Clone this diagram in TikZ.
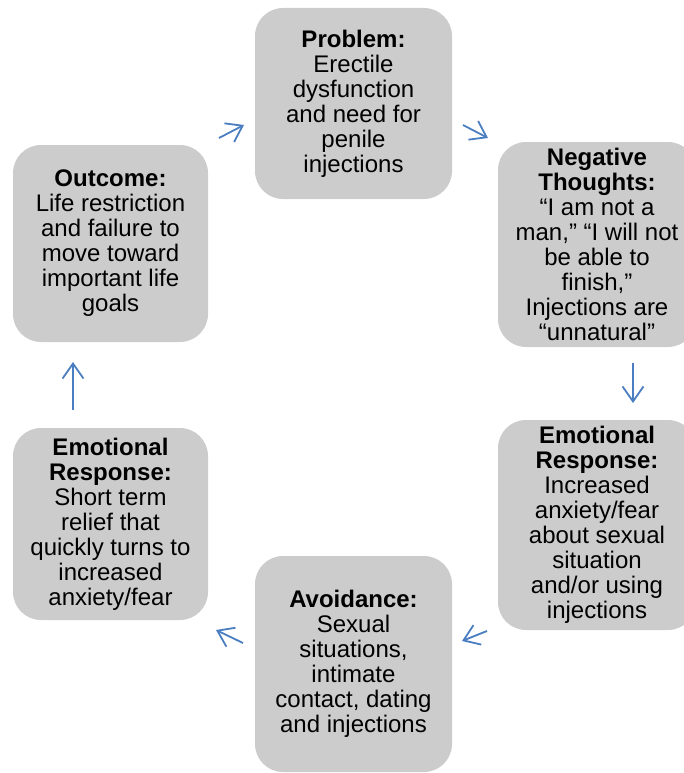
\documentclass[tikz,border=0pt]{standalone}
\usepackage{fontspec}
\setmainfont{Liberation Sans}
\usepackage{xcolor}
\usepackage{tikz}
\usetikzlibrary{arrows.meta}

\definecolor{boxgray}{RGB}{204,204,204}
\definecolor{arrowblue}{RGB}{74,126,193}

\begin{document}
\begin{tikzpicture}[x=1pt, y=-1pt,
    stage/.style={fill=boxgray, rounded corners=28pt, align=center, inner sep=0pt,
        font=\fontsize{24}{25}\selectfont},
    flow/.style={arrowblue, line width=1.8pt, -{Straight Barb[length=15pt, width=21pt, line width=1.8pt]}}]
            \clip (0,0) rectangle (684,773);

            % Problem
            \node[stage, minimum width=197pt, minimum height=191pt] (problem) at (353.5,103.5)
                {\textbf{Problem:}\\Erectile\\dysfunction\\and need for\\penile\\injections};

            % Negative thoughts
            \node[stage, minimum width=198pt, minimum height=205pt] (thoughts) at (597,244.5)
                {\textbf{Negative}\\\textbf{Thoughts:}\\“I am not a\\man,” “I will not\\be able to\\finish,”\\Injections are\\“unnatural”};

            % Emotional response (right)
            \node[stage, minimum width=198pt, minimum height=210pt] (emoR) at (597,525)
                {\textbf{Emotional}\\\textbf{Response:}\\Increased\\anxiety/fear\\about sexual\\situation\\and/or using\\injections};

            % Avoidance
            \node[stage, minimum width=197pt, minimum height=216pt] (avoid) at (353.5,664)
                {\textbf{Avoidance:}\\Sexual\\situations,\\intimate\\contact, dating\\and injections};

            % Emotional response (left)
            \node[stage, minimum width=195pt, minimum height=192pt] (emoL) at (110.5,524)
                {\textbf{Emotional}\\\textbf{Response:}\\Short term\\relief that\\quickly turns to\\increased\\anxiety/fear};

            % Outcome
            \node[stage, minimum width=195pt, minimum height=197pt] (outcome) at (110.5,243.5)
                {\textbf{Outcome:}\\Life restriction\\and failure to\\move toward\\important life\\goals};

            % Arrow ends
            \coordinate (outTail) at (219,138);
            \coordinate (outTip) at (244,125);
            \coordinate (probTail) at (463,125);
            \coordinate (probTip) at (488,138);
            \coordinate (thTail) at (633,363);
            \coordinate (thTip) at (633,403);
            \coordinate (emoRTail) at (487,631);
            \coordinate (emoRTip) at (462,641);
            \coordinate (avTail) at (243,643);
            \coordinate (avTip) at (216,630);
            \coordinate (emoLTail) at (73,410);
            \coordinate (emoLTip) at (73,362);

            % Cycle
            \draw[flow] (outTail) -- (outTip);
            \draw[flow] (probTail) -- (probTip);
            \draw[flow] (thTail) -- (thTip);
            \draw[flow] (emoRTail) -- (emoRTip);
            \draw[flow] (avTail) -- (avTip);
            \draw[flow] (emoLTail) -- (emoLTip);
        \end{tikzpicture}
\end{document}
